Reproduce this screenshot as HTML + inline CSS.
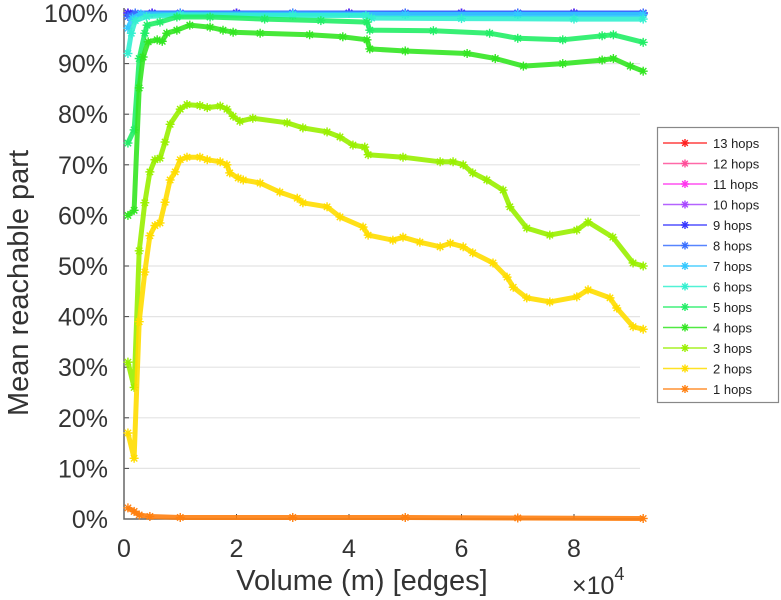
<!DOCTYPE html>
<html><head><meta charset="utf-8">
<style>
html,body{margin:0;padding:0;background:#fff;}
svg{display:block;font-family:"Liberation Sans",Arial,sans-serif;}
</style></head>
<body>
<svg id="chart" width="781" height="600" viewBox="0 0 781 600">
<g id="grid"></g>
<g id="axes"></g>
<g id="series"></g>
<text x="362" y="590" font-size="29" fill="#333" text-anchor="middle">Volume (m) [edges]</text>
<text transform="translate(28,283) rotate(-90)" font-size="29" fill="#333" text-anchor="middle">Mean reachable part</text>
<text x="572" y="594" font-size="25" fill="#333">×10<tspan dy="-14" font-size="18">4</tspan></text>
<g id="legend"></g>
</svg>
<script>
const xTicks=[0,2,4,6,8];
const yTicks=[0,10,20,30,40,50,60,70,80,90,100];
const seriesNames=["13 hops","12 hops","11 hops","10 hops","9 hops","8 hops","7 hops","6 hops","5 hops","4 hops","3 hops","2 hops","1 hops"];
const seriesColors=["#ff2020","#ff4f9a","#ff33ee","#a848ff","#3434ff","#3a70ff","#33c8ff","#33f0d0","#22ee66","#33e622","#99f000","#ffdd00","#ff8010"];
const xFlat=[0.07,0.5,1,2,3,4,5,6,7,8,9.23];
const yFlat=[100,100,100,100,100,100,100,100,100,100,100];
const x8=[0.07,0.2,1,3,5,7,9.23];
const y8=[99.3,100,100,100,100,100,100];
const x7=[0.07,0.15,0.3,1,3,5,7,9.23];
const y7=[97,99,99.8,99.8,99.8,99.7,99.7,99.7];
const x6=[0.07,0.13,0.2,0.4,1,3,4.3,4.4,6,8,9.23];
const y6=[92,96,98.5,99.3,99.6,99.5,99.5,99,98.9,98.8,98.8];
const x5=[0.07,0.18,0.27,0.37,0.41,0.64,0.94,1.53,2.5,3.5,4.32,4.37,5.5,6.5,7.0,7.8,8.5,8.7,9.23];
const y5=[74.3,76.9,91,96,97.6,98.2,99.2,99.2,98.8,98.5,98.2,96.6,96.5,96,95,94.7,95.5,95.7,94.2];
const x4=[0.07,0.18,0.27,0.34,0.43,0.59,0.68,0.76,0.94,1.17,1.53,1.76,1.94,2.42,3.3,3.89,4.32,4.37,5.0,6.1,6.6,7.1,7.8,8.5,8.7,9.0,9.23];
const y4=[60,61,85.2,91.3,94.3,94.7,94.4,96,96.6,97.6,97.2,96.6,96.2,96,95.7,95.3,94.7,92.9,92.5,92,91,89.5,90,90.7,91,89.5,88.5];
const x3=[0.07,0.18,0.27,0.37,0.46,0.55,0.64,0.73,0.82,1.0,1.12,1.35,1.48,1.71,1.83,1.94,2.06,2.29,2.9,3.18,3.61,3.84,4.07,4.28,4.34,4.96,5.62,5.85,6.03,6.2,6.45,6.74,6.86,7.16,7.57,8.05,8.25,8.69,9.05,9.23];
const y3=[31,26,53,62.5,68.6,71,71.3,74.5,78,81,81.9,81.7,81.3,81.6,81,79.6,78.6,79.2,78.3,77.3,76.5,75.5,73.9,73.5,72,71.5,70.6,70.6,70,68.4,67,65,61.7,57.5,56.1,57.1,58.7,55.7,50.6,50];
const x2=[0.07,0.18,0.27,0.37,0.46,0.55,0.64,0.73,0.82,0.91,1.0,1.12,1.35,1.48,1.71,1.83,1.88,2.03,2.12,2.42,2.77,3.08,3.18,3.61,3.84,4.25,4.34,4.78,4.96,5.26,5.62,5.8,6.03,6.2,6.56,6.81,6.92,7.16,7.57,8.05,8.25,8.64,8.76,9.05,9.23];
const y2=[17,12,39,48.8,56,58,58.5,62.6,67,68.6,71,71.5,71.5,71,70.6,70,68.4,67.4,67,66.4,64.6,63.4,62.5,61.7,59.7,57.7,56.1,55.1,55.7,54.7,53.8,54.5,53.8,52.6,50.6,47.8,45.8,43.7,42.9,43.9,45.3,43.7,41.7,38,37.5];
const x1=[0.07,0.18,0.27,0.46,1,3,5,7,9.23];
const y1=[2.2,1.5,0.8,0.5,0.3,0.3,0.3,0.2,0.1];

const seriesX=[xFlat,xFlat,xFlat,xFlat,xFlat,x8,x7,x6,x5,x4,x3,x2,x1];
const seriesY=[yFlat,yFlat,yFlat,yFlat,yFlat,y8,y7,y6,y5,y4,y3,y2,y1];

const NS="http://www.w3.org/2000/svg";
const X0=124, XS=56.25, Y0=519, YS=5.06;
function sx(v){return X0+v*XS;}
function sy(v){return Y0-v*YS;}
function mk(tag,attrs,parent){const e=document.createElementNS(NS,tag);for(const k in attrs)e.setAttribute(k,attrs[k]);parent.appendChild(e);return e;}
function star(parent,x,y,c,r){
  const g=mk('g',{stroke:c,'stroke-width':1.4},parent);
  for(let i=0;i<4;i++){const a=i*Math.PI/4;mk('line',{x1:x-r*Math.cos(a),y1:y-r*Math.sin(a),x2:x+r*Math.cos(a),y2:y+r*Math.sin(a)},g);}
  return g;
}
const grid=document.getElementById('grid'), axes=document.getElementById('axes'), sg=document.getElementById('series'), lg=document.getElementById('legend');
yTicks.forEach(t=>{
  if(t>0&&t<100){const l=mk('line',{x1:X0,x2:640,y1:sy(t),y2:sy(t),stroke:'#e4e4e4','stroke-width':1.2},grid);
  
  }
  const tk=mk('line',{x1:X0,x2:X0+5,y1:sy(t),y2:sy(t),stroke:'#444','stroke-width':1},axes);
  
  
  const tx=mk('text',{x:108,y:sy(t)+9,'font-size':25,fill:'#333','text-anchor':'end'},axes);
  tx.textContent=t+'%';
  
  
});
xTicks.forEach(t=>{
  const tk=mk('line',{x1:sx(t),x2:sx(t),y1:Y0,y2:Y0-5,stroke:'#444','stroke-width':1},axes);
  
  
  const tx=mk('text',{x:sx(t),y:557,'font-size':25,fill:'#333','text-anchor':'middle'},axes);
  tx.textContent=t;
  
  
});
const ax=mk('path',{d:`M${X0},8 L${X0},${Y0} L642,${Y0}`,fill:'none',stroke:'#666','stroke-width':1.5},axes);



// draw 13 hops first so lower hop counts lie on top
for(let i=0;i<seriesNames.length;i++){
  const xs=seriesX[i], ys=seriesY[i], c=seriesColors[i];
  const g=mk('g',{},sg);
  
  
  const d=xs.map((v,k)=>(k?'L':'M')+sx(v).toFixed(1)+','+sy(ys[k]).toFixed(1)).join(' ');
  const p=mk('path',{d:d,fill:'none',stroke:c,'stroke-width':5,'stroke-linejoin':'round','stroke-opacity':0.9},g);
  
  
  xs.forEach((v,k)=>{
    const s=star(g,sx(v),sy(ys[k]),c,4.5);
    
    
  });
}

// legend
const box=mk('rect',{x:657.5,y:127.5,width:121,height:275,fill:'#fff',stroke:'#888','stroke-width':1.2},lg);


seriesNames.forEach((n,i)=>{
  const y=143+i*20.5;
  const g=mk('g',{},lg);
  
  
  mk('line',{x1:663,x2:707,y1:y,y2:y,stroke:seriesColors[i],'stroke-width':1.5,opacity:0.85},g);
  star(g,685,y,seriesColors[i],4);
  const t=mk('text',{x:713,y:y+5,'font-size':13,fill:'#222'},g);
  t.textContent=n;
});
</script>
</body></html>
